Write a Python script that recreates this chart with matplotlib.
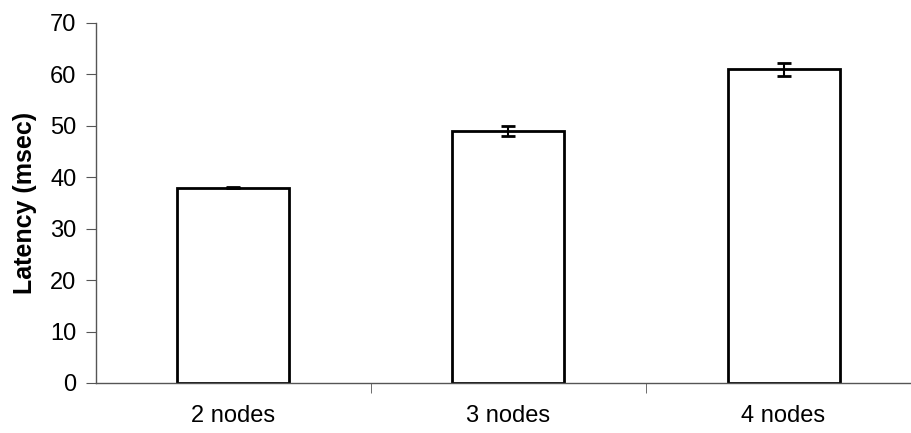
import matplotlib.pyplot as plt
import numpy as np

plt.rcParams['font.family'] = ['Liberation Sans', 'DejaVu Sans']

categories = ['2 nodes', '3 nodes', '4 nodes']
latency = [38.0, 49.0, 61.0]
errors = [0.1, 1.0, 1.3]

fig = plt.figure(figsize=(9.12, 4.33), dpi=100)
ax = fig.add_axes([0.105, 0.1155, 0.905, 0.8315])

x = np.arange(len(categories))
ax.bar(x, latency, width=0.407, color='white', edgecolor='black', linewidth=2, zorder=2)
ax.errorbar(x, latency, yerr=errors, fmt='none', ecolor='black', elinewidth=1.5,
            capsize=5, capthick=2, zorder=3)

ax.set_xlim(-0.5, 2.5)
ax.set_ylim(0, 70)
ax.set_yticks(range(0, 71, 10))
ax.set_xticks(x)
ax.set_xticklabels(categories, fontsize=17)
ax.set_xticks([0.5, 1.5, 2.5], minor=True)
ax.tick_params(axis='x', which='major', length=0, pad=16)
ax.tick_params(axis='x', which='minor', length=7, direction='out', color='#555555')
ax.tick_params(axis='y', labelsize=17, length=7, direction='out', color='#555555', pad=7)
ax.set_ylabel('Latency (msec)', fontsize=18, fontweight='bold', labelpad=9)

for s in ['top', 'right']:
    ax.spines[s].set_visible(False)
for s in ['left', 'bottom']:
    ax.spines[s].set_color('#555555')
    ax.spines[s].set_linewidth(1)

fig.savefig('out.png', dpi=100)
